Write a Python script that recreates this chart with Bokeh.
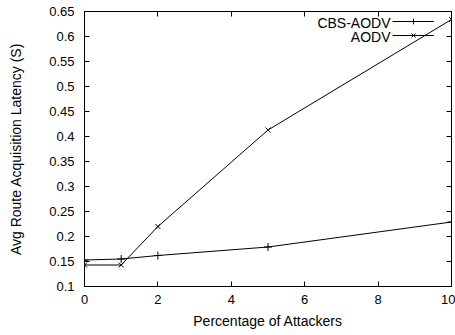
from bokeh.plotting import figure
from bokeh.models import (Range1d, Legend, LegendItem, Label, LinearAxis,
                          FixedTicker, ColumnDataSource)
from bokeh.embed import file_html
from bokeh.resources import INLINE

# Percentage of attackers vs. average route acquisition latency (seconds)
attackers = [0, 1, 2, 5, 10]
cbs_aodv = [0.153, 0.155, 0.162, 0.179, 0.229]
aodv = [0.143, 0.143, 0.220, 0.413, 0.634]

x_ticks = [0, 2, 4, 6, 8, 10]
x_labels = ["0", "2", "4", "6", "8", "10"]
y_ticks = [0.1, 0.15, 0.2, 0.25, 0.3, 0.35, 0.4, 0.45, 0.5, 0.55, 0.6, 0.65]
y_labels = ["0.1", "0.15", "0.2", "0.25", "0.3", "0.35", "0.4", "0.45",
            "0.5", "0.55", "0.6", "0.65"]

FONT = "Liberation Sans"

p = figure(width=455, height=335, output_backend="svg", toolbar_location=None,
           x_range=Range1d(0, 10), y_range=Range1d(0.1, 0.65),
           min_border_left=84, min_border_right=4, min_border_top=11,
           min_border_bottom=49)
p.xgrid.visible = False
p.ygrid.visible = False
p.outline_line_color = "black"
p.outline_line_width = 1
p.background_fill_color = "white"
p.border_fill_color = "white"

def style_axis(ax, ticks, labels, show_labels=True):
    ax.ticker = FixedTicker(ticks=ticks)
    ax.minor_tick_line_color = None
    ax.major_tick_in = 5
    ax.major_tick_out = 0
    ax.axis_line_color = "black"
    ax.major_tick_line_color = "black"
    ax.major_label_text_font = FONT
    ax.major_label_text_font_size = "13px"
    ax.major_label_text_color = "black"
    if show_labels:
        ax.major_label_overrides = {t: l for t, l in zip(ticks, labels)}
    else:
        ax.major_label_overrides = {t: "" for t in ticks}
        ax.major_label_standoff = 0

style_axis(p.xaxis[0], x_ticks, x_labels)
style_axis(p.yaxis[0], y_ticks, y_labels)
p.xaxis[0].major_label_standoff = 8
p.yaxis[0].major_label_standoff = 10

p.xaxis.axis_label = "Percentage of Attackers"
p.yaxis.axis_label = "Avg Route Acquisition Latency (S)"
for ax in (p.xaxis[0], p.yaxis[0]):
    ax.axis_label_text_font = FONT
    ax.axis_label_text_font_size = "14px"
    ax.axis_label_text_font_style = "normal"
    ax.axis_label_text_color = "black"
p.xaxis[0].axis_label_standoff = 6
p.yaxis[0].axis_label_standoff = 22

# mirrored tick marks on the top and right edges
top_axis = LinearAxis()
right_axis = LinearAxis()
style_axis(top_axis, x_ticks, x_labels, show_labels=False)
style_axis(right_axis, y_ticks, y_labels, show_labels=False)
p.add_layout(top_axis, "above")
p.add_layout(right_axis, "right")

src = ColumnDataSource(dict(x=attackers, cbs=cbs_aodv, aodv=aodv))

l1 = p.line("x", "cbs", source=src, line_color="black", line_width=1)
m1 = p.scatter("x", "cbs", source=src, marker="cross", size=8,
               line_color="black", line_width=1)
l2 = p.line("x", "aodv", source=src, line_color="black", line_width=1)
m2 = p.scatter("x", "aodv", source=src, marker="x", size=7,
               line_color="black", line_width=1)

# key: sample glyphs on the right, names right-aligned to their left
legend = Legend(items=[LegendItem(label="", renderers=[l1, m1]),
                       LegendItem(label="", renderers=[l2, m2])],
                glyph_width=42, glyph_height=14,
                label_width=0, label_height=0, label_standoff=0, spacing=0,
                padding=0, margin=0, border_line_color=None,
                background_fill_alpha=0)
legend.location = (308, 244)
p.add_layout(legend)

for name, yoff in (("CBS-AODV", 11), ("AODV", 25)):
    p.add_layout(Label(x=306, y=275 - yoff, x_units="screen",
                       y_units="screen", text=name, text_align="right",
                       text_baseline="middle", text_font=FONT,
                       text_font_size="14px", text_color="black"))

open("out.html", "w").write(file_html(p, INLINE))
